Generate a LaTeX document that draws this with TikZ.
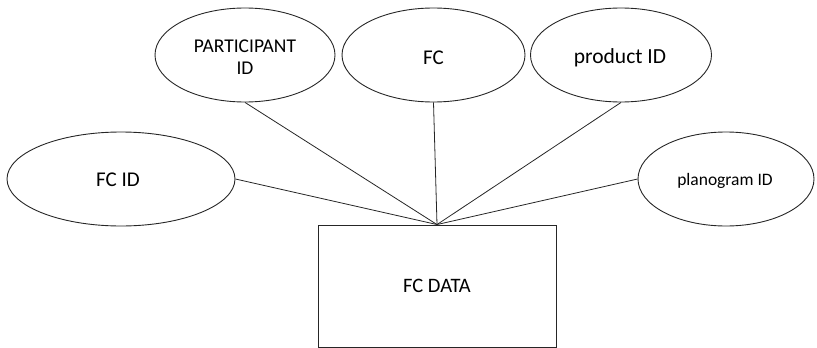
\documentclass[tikz,border=0pt]{standalone}
\usepackage{fontspec}
\setmainfont{Carlito}
\usetikzlibrary{shapes.geometric}
\begin{document}
\begin{tikzpicture}[x=1pt,y=-1pt,
  attr/.style={draw=black!85,line width=0.9pt,ellipse,minimum width=#1,minimum height=94pt,inner sep=0pt},
  lbl/.style={align=center,inner sep=0pt},
  entity/.style={draw=black!85,line width=0.9pt,rectangle,minimum width=238pt,minimum height=122pt,inner sep=0pt,font=\fontsize{20.5}{22}\selectfont},
  link/.style={draw=black!85,line width=0.8pt}]
\useasboundingbox (0,0) rectangle (817,348);
\node[entity] (data) at (437,286) {FC DATA};
\node[attr=180pt] (part) at (245,55) {};
\node[attr=183pt] (fc) at (433.5,55) {};
\node[attr=181pt] (prod) at (621,55) {};
\node[attr=228pt] (fcid) at (121,179) {};
\node[attr=176pt] (plan) at (726,179) {};
% attribute labels
\node[lbl,font=\fontsize{19.5}{22}\selectfont] (partl) at (245,57) {PARTICIPANT\\ID};
\node[lbl,font=\fontsize{21}{23}\selectfont] (fcl) at (433.5,57.5) {FC};
\node[lbl,font=\fontsize{21.5}{23}\selectfont] (prodl) at (620,57.5) {product ID};
\node[lbl,font=\fontsize{21}{23}\selectfont] (fcidl) at (118,180) {FC ID};
\node[lbl,font=\fontsize{17.5}{20}\selectfont] (planl) at (725,181) {planogram ID};
\draw[link] (part.south) -- (data.north);
\draw[link] (fc.south) -- (data.north);
\draw[link] (prod.south) -- (data.north);
\draw[link] (fcid.east) -- (data.north);
\draw[link] (plan.west) -- (data.north);
\end{tikzpicture}
\end{document}
